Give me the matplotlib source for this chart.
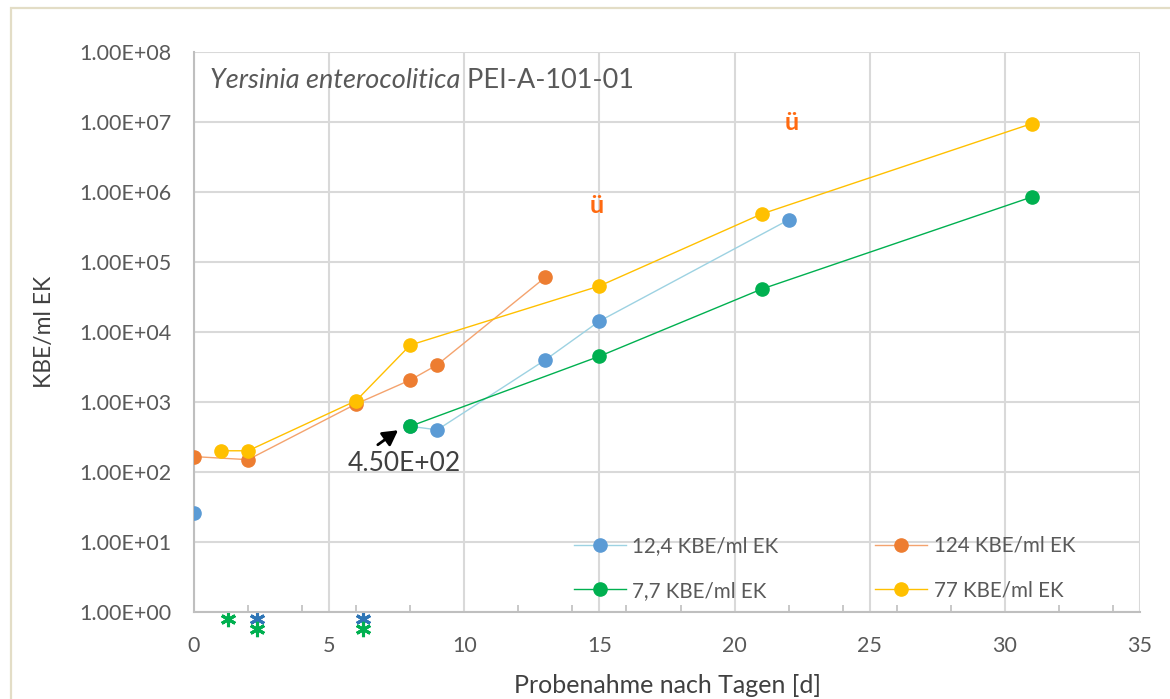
import math
import matplotlib
matplotlib.use("Agg")
import matplotlib.pyplot as plt
import matplotlib.ticker as mticker
import matplotlib.transforms as mtransforms
from matplotlib.patches import Rectangle

plt.rcParams['font.family'] = ['Lato', 'DejaVu Sans']

# ---- data ----
nan = float('nan')
blue_x = [0, 2, 6, 8, 9, 13, 15, 22]
blue_y = [26, nan, nan, 450, 400, 4000, 14300, 400000]
orange_x = [0, 2, 6, 8, 9, 13]
orange_y = [166, 150, 940, 2060, 3400, 60500]
green_x = [8, 15, 21, 31]
green_y = [450, 4500, 41000, 850000]
yellow_x = [1, 2, 6, 8, 15, 21, 31]
yellow_y = [201, 201, 1045, 6500, 45400, 485000, 9500000]

labels = ["12,4 KBE/ml EK", "124 KBE/ml EK", "7,7 KBE/ml EK", "77 KBE/ml EK"]
title_italic = "Yersinia enterocolitica"
title_rest = " PEI-A-101-01"
xlabel = "Probenahme nach Tagen [d]"
ylabel = "KBE/ml EK"
annot_text = "4.50E+02"
u_x = [14.9, 22.1]
u_y = [6.4e5, 1.0e7]
star_green_x = [1.26, 2.33, 6.25]
star_blue_x = [2.33, 6.25]

fig = plt.figure(figsize=(11.7, 6.99), dpi=100)
ax = fig.add_axes([194/1170, 1-612/699, (1140-194)/1170, (612-52)/699])

# outer border
fig.patches.append(Rectangle((11/1170, -0.05), 1.2, 1-8/699+0.05, transform=fig.transFigure,
                             fill=False, edgecolor='#E3DDC6', lw=1.6, zorder=0))

ms = 9.5
h_blue, = ax.plot(blue_x, blue_y, '-o', color='#9DD2E2', lw=1.0, ms=ms,
                  markerfacecolor='#5B9BD5', markeredgecolor='#5B9BD5', zorder=3)
h_orange, = ax.plot(orange_x, orange_y, '-o', color='#F4A36E', lw=1.0, ms=ms,
                    markerfacecolor='#ED7D31', markeredgecolor='#ED7D31', zorder=3)
h_green, = ax.plot(green_x, green_y, '-o', color='#00B050', lw=1.0, ms=ms,
                   markerfacecolor='#00B050', markeredgecolor='#00B050', zorder=3)
h_yellow, = ax.plot(yellow_x, yellow_y, '-o', color='#FFC000', lw=1.0, ms=ms,
                    markerfacecolor='#FFC000', markeredgecolor='#FFC000', zorder=3)

ax.set_yscale('log')
ax.set_ylim(1, 1e8)
ax.set_xlim(0, 35)
ax.xaxis.set_major_locator(mticker.MultipleLocator(5))
ax.xaxis.set_minor_locator(mticker.MultipleLocator(2))
ax.yaxis.set_major_locator(mticker.LogLocator(base=10, numticks=20))
ax.yaxis.set_minor_locator(mticker.NullLocator())
ax.yaxis.set_major_formatter(mticker.FuncFormatter(lambda v, p: "1.00E+%02d" % round(math.log10(v))))

ax.grid(True, which='major', color='#D9D9D9', lw=1.5)
ax.set_axisbelow(True)
for s in ['top', 'right']:
    ax.spines[s].set_visible(False)
for s in ['left', 'bottom']:
    ax.spines[s].set_color('#BFBFBF')
    ax.spines[s].set_linewidth(1.5)
ax.tick_params(axis='both', which='major', length=0, labelsize=15.5, labelcolor='#595959')
ax.tick_params(axis='y', pad=16)
ax.tick_params(axis='x', pad=17)
ax.tick_params(axis='x', which='minor', direction='in', length=5, width=1.2, color='#BFBFBF')

ax.set_xlabel(xlabel, fontsize=18, color='#404040', labelpad=13)
ax.set_ylabel(ylabel, fontsize=16.5, color='#404040', labelpad=18)

# title inside
t1 = ax.text(0.017, 0.95, title_italic, transform=ax.transAxes, fontsize=19.5, style='italic',
             color='#595959', va='center', ha='left')
ax.annotate(title_rest, xy=(1, 0), xycoords=t1, va='bottom', ha='left', fontsize=19.5, color='#595959')

# ü markers
for xx, yy in zip(u_x, u_y):
    ax.text(xx, yy, "ü", fontsize=18, fontweight='bold', color='#FF6A10', ha='center', va='center')

# annotation arrow
ax.annotate("", xy=(7.55, 395), xytext=(6.8, 245),
            arrowprops=dict(arrowstyle='-|>,head_length=0.9,head_width=0.5', color='black', lw=2.0,
                            shrinkA=0, shrinkB=0))
ax.text(7.8, 134, annot_text, fontsize=19, color='#404040', ha='center', va='center')

# asterisks below axis
trans = mtransforms.blended_transform_factory(ax.transData, ax.transAxes)
ax.plot(star_blue_x, [-0.0125]*len(star_blue_x), linestyle='none', marker=(6, 2, 0), ms=11, mew=2.2,
        color='#2E75B6', transform=trans, clip_on=False)
ax.plot(star_green_x[1:], [-0.031]*2, linestyle='none', marker=(6, 2, 0), ms=11, mew=2.2,
        color='#00B050', transform=trans, clip_on=False)
ax.plot(star_green_x[:1], [-0.0125], linestyle='none', marker=(6, 2, 0), ms=11, mew=2.2,
        color='#00B050', transform=trans, clip_on=False)

leg = ax.legend([h_blue, h_green, h_orange, h_yellow], [labels[0], labels[2], labels[1], labels[3]],
                ncol=2, frameon=False, fontsize=14.8, labelcolor='#595959',
                loc='upper left', bbox_to_anchor=((574-194)/946, (612-536)/560),
                handlelength=2.53, handletextpad=0.3, columnspacing=4.72, labelspacing=1.2,
                borderaxespad=0, borderpad=0)

fig.savefig("out.png", dpi=100)
